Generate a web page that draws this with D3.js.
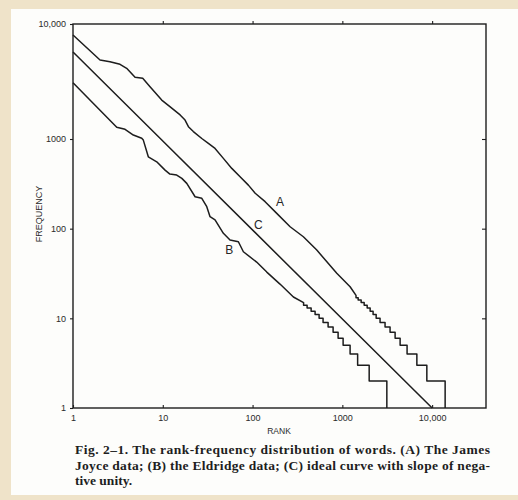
<!DOCTYPE html>
<html><head><meta charset="utf-8">
<script src="https://cdn.jsdelivr.net/npm/d3@7"></script>
<style>
html,body{margin:0;padding:0;background:#efe3c9;}
svg{display:block;}
</style>
</head><body>
<svg id="chart" width="518" height="500"></svg>
<script>
// ---------- data ----------
const rankTicks = [1, 10, 100, 1000, 10000];
const rankTickLabels = ["1", "10", "100", "1000", "10,000"];
const freqTicks = [1, 10, 100, 1000, 10000];
const freqTickLabels = ["1", "10", "100", "1000", "10,000"];

// (A) James Joyce data - smooth upper part
const joyceRank = [1, 2.0, 2.58, 3.34, 3.96, 4.91, 5.98, 7.21, 9.73, 12.0, 15.6, 17.7, 19.3, 21.9, 27.2, 32.2, 38.2, 47.3, 58.7, 72.6, 89.8, 107, 138, 186, 262, 368, 519, 867, 1220, 1420];
const joyceFreq = [8020, 4860, 4700, 4460, 4120, 3440, 3370, 2850, 2180, 1910, 1620, 1460, 1280, 1160, 1010, 893, 785, 608, 470, 379, 306, 248, 200, 148, 105, 81.3, 57.7, 31.8, 22.5, 18];
// (A) stepped tail: frequency level and the last rank holding it
const joyceStepFreq = [17, 16, 15, 14, 13, 12, 11, 10, 9, 8, 7, 6, 5, 4, 3, 2];
const joyceStepEnd = [1500, 1620, 1750, 1890, 2040, 2200, 2380, 2630, 2990, 3400, 3870, 4400, 5260, 6760, 8730, 13960];

// (B) Eldridge data - smooth upper part
const eldridgeRank = [1, 3.07, 3.80, 4.70, 5.83, 6.07, 6.90, 8.56, 10.6, 12.0, 14.3, 16.3, 18.5, 22.9, 27.2, 30.9, 33.6, 38.2, 47.3, 56.1, 69.5, 79.0, 111, 144, 202, 285, 370];
const eldridgeFreq = [3090, 1264, 1214, 1083, 1014, 972, 633, 557, 450, 406, 396, 364, 320, 227, 218, 176, 136, 125, 88.7, 74.6, 71.5, 55.3, 42.4, 32.8, 24.1, 17.3, 15];
// (B) stepped tail
const eldridgeStepFreq = [14, 13, 12, 11, 10, 9, 8, 7, 6, 5, 4, 3, 2];
const eldridgeStepEnd = [405, 449, 497, 551, 610, 694, 789, 897, 1020, 1220, 1480, 1990, 3130];

// (C) ideal curve with slope of negative unity
const idealRank = [1, 9.5, 10000];
const idealFreq = [5710, 1000, 1];

// curve letters and their anchor (rank, frequency)
const curveNames = ["A", "C", "B"];
const curveNameRank = [202, 116, 55];
const curveNameFreq = [200, 112, 58.8];

const xTitle = "RANK";
const yTitle = "FREQUENCY";
const captionLines = [
  "Fig. 2\u20131. The rank-frequency distribution of words. (A) The James",
  "Joyce data; (B) the Eldridge data; (C) ideal curve with slope of nega-",
  "tive unity."
];

// ---------- drawing ----------
const svg = d3.select("#chart");
const ink = "#1d1d1d";

// paper
svg.append("rect").attr("x", 0).attr("y", 0).attr("width", 518).attr("height", 500).attr("fill", "#efe3c9");
svg.append("rect").attr("x", 11).attr("y", 9).attr("width", 507).attr("height", 486).attr("fill", "#fdfdfb");

const L = 73, R = 486, T = 24, B = 408;
const x = d3.scaleLog().domain([1, Math.pow(10, 4.6)]).range([L, R]);
// printed axis: 1..1000 evenly spaced decades, top decade printed taller
const y = d3.scaleLog().domain([1, 1000, 10000]).range([B, 139, T]);

const fontSans = "'Liberation Sans', Arial, sans-serif";

// frame
svg.append("rect").attr("x", L).attr("y", T).attr("width", R - L).attr("height", B - T)
  .attr("fill", "none").attr("stroke", ink).attr("stroke-width", 1.4);

function styleAxis(g) {
  g.select(".domain").remove();
  g.selectAll(".tick line").attr("stroke", ink).attr("stroke-width", 1.1);
  g.selectAll(".tick text").attr("fill", "#2a2a2a").style("font-family", fontSans).style("font-size", "9px");
}

svg.append("g").attr("transform", `translate(${L},0)`)
  .call(d3.axisLeft(y).tickValues(freqTicks).tickFormat((d, i) => freqTickLabels[i]).tickSizeInner(3).tickSizeOuter(0).tickPadding(4))
  .call(styleAxis);
svg.append("g").attr("transform", `translate(${R},0)`)
  .call(d3.axisRight(y).tickValues(freqTicks.slice(1, 4)).tickFormat("").tickSizeInner(-4).tickSizeOuter(0))
  .call(styleAxis);
svg.append("g").attr("transform", `translate(0,${B})`)
  .call(d3.axisBottom(x).tickValues(rankTicks).tickFormat((d, i) => rankTickLabels[i]).tickSizeInner(-3).tickSizeOuter(0).tickPadding(7))
  .call(styleAxis);
svg.append("g").attr("transform", `translate(0,${T})`)
  .call(d3.axisTop(x).tickValues(rankTicks.slice(1)).tickFormat("").tickSizeInner(3).tickSizeOuter(0))
  .call(styleAxis);

// axis titles
svg.append("text").attr("x", 279).attr("y", 434).attr("text-anchor", "middle")
  .style("font-family", fontSans).style("font-size", "8.5px").attr("fill", "#2a2a2a").text(xTitle);
svg.append("text").attr("transform", "translate(42,214) rotate(-90)").attr("text-anchor", "middle")
  .style("font-family", fontSans).style("font-size", "9px").attr("fill", "#2a2a2a").text(yTitle);

// curves
function withSteps(rank, freq, stepFreq, stepEnd) {
  const pts = rank.map((r, i) => [r, freq[i]]);
  let prev = rank[rank.length - 1];
  stepFreq.forEach((f, i) => { pts.push([prev, f]); pts.push([stepEnd[i], f]); prev = stepEnd[i]; });
  pts.push([prev, 1]);
  return pts;
}
const line = d3.line().x(d => x(d[0])).y(d => y(d[1]));
const series = [
  withSteps(joyceRank, joyceFreq, joyceStepFreq, joyceStepEnd),
  withSteps(eldridgeRank, eldridgeFreq, eldridgeStepFreq, eldridgeStepEnd),
  idealRank.map((r, i) => [r, idealFreq[i]])
];
svg.append("g").selectAll("path").data(series).join("path")
  .attr("d", line).attr("fill", "none").attr("stroke", ink)
  .attr("stroke-width", 1.5).attr("stroke-linejoin", "round");

// curve letters
svg.append("g").selectAll("text").data(curveNames).join("text")
  .attr("x", (d, i) => x(curveNameRank[i])).attr("y", (d, i) => y(curveNameFreq[i]))
  .attr("dy", "0.36em").attr("text-anchor", "middle")
  .style("font-family", fontSans).style("font-size", "12px").attr("fill", "#262626")
  .text(d => d);

// caption
const cap = svg.append("g").style("font-family", "'Liberation Serif', 'Times New Roman', serif")
  .style("font-weight", "bold").style("font-size", "13.5px").attr("fill", "#1e1e1e");
captionLines.forEach((t, i) => {
  const tx = cap.append("text").attr("x", 75).attr("y", 454 + i * 15.5).text(t);
  if (i < 2) tx.attr("textLength", 415).attr("lengthAdjust", "spacing");
});
</script>
</body></html>
